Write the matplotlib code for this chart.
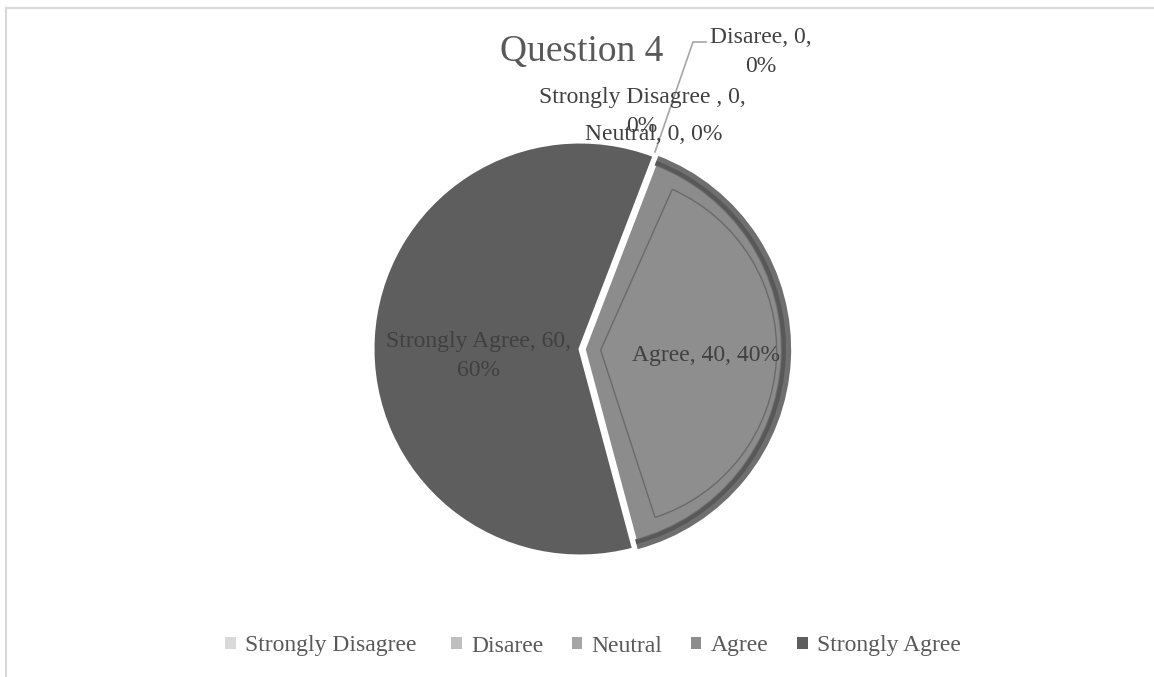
# Question 4 pie chart
import matplotlib.pyplot as plt
from matplotlib.patches import Wedge
from matplotlib.lines import Line2D
import numpy as np

categories = ['Strongly Disagree ', 'Disaree', 'Neutral', 'Agree', 'Strongly Agree']
counts = [0, 0, 0, 40, 60]
percents = [0, 0, 0, 40, 60]
colors = ['#d9d9d9', '#bfbfbf', '#a5a5a5', '#8c8c8c', '#5e5e5e']

plt.rcParams['font.family'] = ['Liberation Serif', 'DejaVu Serif']

W, H = 1154, 677
fig = plt.figure(figsize=(W / 100, H / 100), dpi=100)
ax = fig.add_axes([0, 0, 1, 1])

# pie geometry in pixels
cx, cy, R = 580, 349, 207

wedges, _ = ax.pie(counts, colors=colors, startangle=69, counterclock=False,
                   explode=[0, 0, 0, 0.02, 0], radius=1, center=(0, 0),
                   wedgeprops=dict(edgecolor='white', linewidth=2.2))

ax.set_xlim(-cx / R, (W - cx) / R)
ax.set_ylim(-(H - cy) / R, cy / R)
ax.set_aspect('auto')
ax.axis('off')

# bevel look on the Agree slice
ag = wedges[3]
mid = np.deg2rad((ag.theta1 + ag.theta2) / 2)
acx, acy = ag.center
ax.add_patch(Wedge((acx, acy), 1.0, ag.theta1, ag.theta2, width=0.05,
                   facecolor='#6f6f6f', edgecolor='none', zorder=3))
ax.add_patch(Wedge((acx, acy), 0.975, ag.theta1, ag.theta2, width=0.02,
                   facecolor='#4a4a4a', edgecolor='none', zorder=3, alpha=0.6))
ic = (acx + 0.08 * np.cos(mid), acy + 0.08 * np.sin(mid))
ax.add_patch(Wedge(ic, 0.85, ag.theta1 + 3, ag.theta2 - 3, facecolor='#8e8e8e',
                   edgecolor='#6a6a6a', linewidth=1.0, zorder=3))

def px(x, y):
    return (x - cx) / R, (cy - y) / R

lab = dict(fontsize=17, color='#404040', ha='center', va='center', linespacing=1.45, zorder=5)

# data labels inside slices
ax.text(*px(706, 355), f'{categories[3]}, {counts[3]}, {percents[3]}%', **lab)
ax.text(*px(478, 356), f'{categories[4]}, {counts[4]},\n{percents[4]}%', **lab)

# zero-value labels stacked above the pie
ax.text(*px(642, 112), f'{categories[0]}, {counts[0]},\n{percents[0]}%', **lab)
ax.text(*px(761, 52), f'{categories[1]}, {counts[1]},\n{percents[1]}%', **lab)
ax.text(*px(654, 135), f'{categories[2]}, {counts[2]}, {percents[2]}%', **lab)
lx, ly = zip(px(655, 152), px(693, 42), px(706, 42))
ax.plot(lx, ly, color='#a6a6a6', linewidth=1.2, zorder=4)

ax.text(*px(582, 52), 'Question 4', ha='center', va='center', fontsize=27, color='#595959')

handles = [plt.Rectangle((0, 0), 1, 1, facecolor=c, edgecolor='none') for c in colors]
leg = fig.legend(handles, categories, loc='center', bbox_to_anchor=(593 / W, 1 - 646 / H),
                 ncol=5, frameon=False, fontsize=17, handlelength=0.45, handleheight=0.45,
                 handletextpad=0.4, columnspacing=1.2)
for t in leg.get_texts():
    t.set_color('#595959')

# chart area border (top and left edges)
fig.add_artist(Line2D([6 / W, 1], [1 - 8 / H, 1 - 8 / H], color='#d9d9d9', linewidth=1.5))
fig.add_artist(Line2D([6 / W, 6 / W], [0, 1 - 8 / H], color='#d9d9d9', linewidth=1.5))

fig.savefig('out.png', dpi=100, facecolor='white')
